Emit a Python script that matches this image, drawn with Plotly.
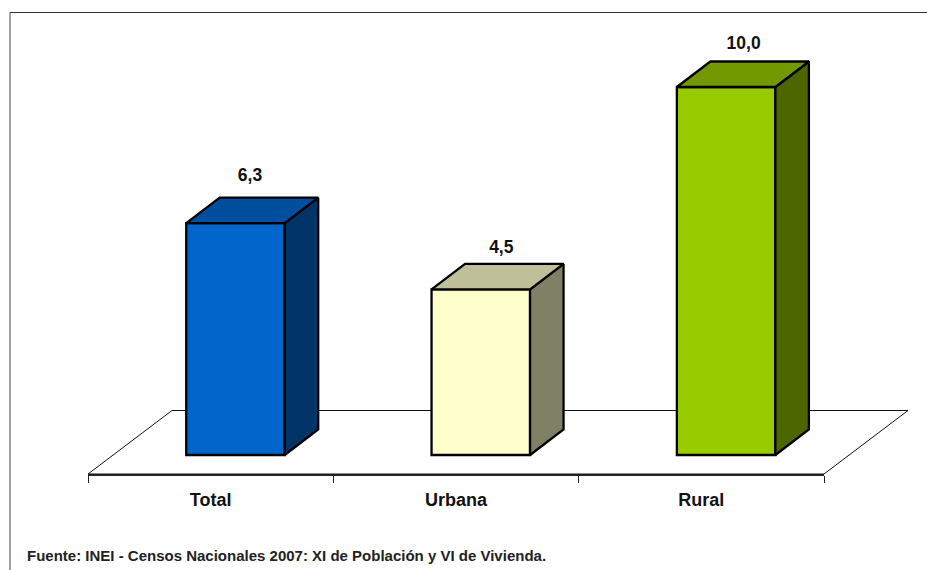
import plotly.graph_objects as go

categories = ["Total", "Urbana", "Rural"]
values = [6.3, 4.5, 10.0]
value_labels = ["6,3", "4,5", "10,0"]
front_colors = ["#0066CC", "#FFFFCC", "#99CC00"]
top_colors = ["#004F9E", "#BFBF99", "#729900"]
side_colors = ["#003366", "#808066", "#4D6600"]
source_text = "Fuente: INEI - Censos Nacionales 2007: XI de Población y VI de Vivienda."

W, H = 927, 570
ML, MR, MT, MB = 88, 103, 13, 96
PX_X = (W - ML - MR) / 3
PX_Y = 36.8
y_low = -19 / PX_Y
y_high = y_low + (H - MT - MB) / PX_Y

bar_shift = 24.8 / PX_X
bar_w = 98.5 / PX_X
dx = 33.5 / PX_X
dy = 25.5 / PX_Y
label_dx = [14.5 / PX_X, 20.5 / PX_X, 17.5 / PX_X]
label_dy = [21.5 / PX_Y, 15 / PX_Y, 17 / PX_Y]

FONT = "Liberation Sans"
INK = "#000000"
fig = go.Figure()

xs = [i + bar_shift for i in range(3)]

# front faces
fig.add_trace(go.Bar(
    x=xs, y=values, width=bar_w,
    marker=dict(color=front_colors, line=dict(color=INK, width=2.3)),
    cliponaxis=False, hoverinfo="skip", showlegend=False))

# top and side faces, derived from the values
for xc, v, tc, sc in zip(xs, values, top_colors, side_colors):
    l, r = xc - bar_w / 2, xc + bar_w / 2
    fig.add_trace(go.Scatter(
        x=[r, r + dx, r + dx, r, r], y=[0, dy, v + dy, v, 0],
        mode="lines", fill="toself", fillcolor=sc,
        line=dict(color=INK, width=2.3), cliponaxis=False,
        hoverinfo="skip", showlegend=False))
    fig.add_trace(go.Scatter(
        x=[l, l + dx, r + dx, r, l], y=[v, v + dy, v + dy, v, v],
        mode="lines", fill="toself", fillcolor=tc,
        line=dict(color=INK, width=2.3), cliponaxis=False,
        hoverinfo="skip", showlegend=False))

# data labels
fig.add_trace(go.Scatter(
    x=[x + d for x, d in zip(xs, label_dx)],
    y=[v + dy + d for v, d in zip(values, label_dy)],
    text=value_labels, mode="text", textposition="middle center",
    textfont=dict(family=FONT, size=17.5, color="#111111", weight="bold"),
    cliponaxis=False, hoverinfo="skip", showlegend=False))

fx = lambda px: (px - ML) / (W - ML - MR)
fy = lambda py: (H - MB - py) / (H - MT - MB)

# floor plane under the bars (paper reference so that it is not clipped)
fig.add_shape(
    type="path", layer="below", xref="paper", yref="paper",
    path=(f"M {fx(88)} {fy(474)} L {fx(172)} {fy(410.5)} "
          f"L {fx(908)} {fy(410.5)} L {fx(824)} {fy(474)} Z"),
    fillcolor="white", line=dict(color="#111111", width=1))

# chart frame: left and top rules only
fig.add_shape(type="line", xref="paper", yref="paper", layer="below",
              x0=fx(10), x1=fx(10), y0=fy(570), y1=fy(12.5),
              line=dict(color="#444444", width=1))
fig.add_shape(type="line", xref="paper", yref="paper", layer="below",
              x0=fx(10), x1=fx(927), y0=fy(12.5), y1=fy(12.5),
              line=dict(color="#333333", width=1))

fig.add_annotation(
    text=source_text, xref="paper", yref="paper", x=fx(24.5), y=fy(555),
    xanchor="left", yanchor="middle", showarrow=False,
    font=dict(family=FONT, size=15, color="#222222", weight="bold"))

fig.update_layout(
    width=W, height=H, margin=dict(l=ML, r=MR, t=MT, b=MB, autoexpand=False),
    paper_bgcolor="white", plot_bgcolor="rgba(0,0,0,0)", showlegend=False,
    font=dict(family=FONT),
    xaxis=dict(
        range=[-0.5, 2.5], tickmode="array", tickvals=[0, 1, 2], ticktext=categories,
        ticks="outside", ticklen=0, ticklabelstandoff=9, showgrid=False, zeroline=False,
        showline=True, linecolor="#222222", linewidth=1.5,
        tickfont=dict(family=FONT, size=18, color="#111111", weight="bold"),
        minor=dict(tickmode="array", tickvals=[-0.5, 0.5, 1.5, 2.5], ticks="outside",
                   ticklen=7, tickwidth=1, tickcolor="#222222", showgrid=False)),
    yaxis=dict(range=[y_low, y_high], visible=False, showgrid=False, zeroline=False),
)

fig.write_html(
    "out.html",
    config={"displayModeBar": False},
    post_script="document.body.style.margin='0';document.documentElement.style.overflow='hidden';",
)
